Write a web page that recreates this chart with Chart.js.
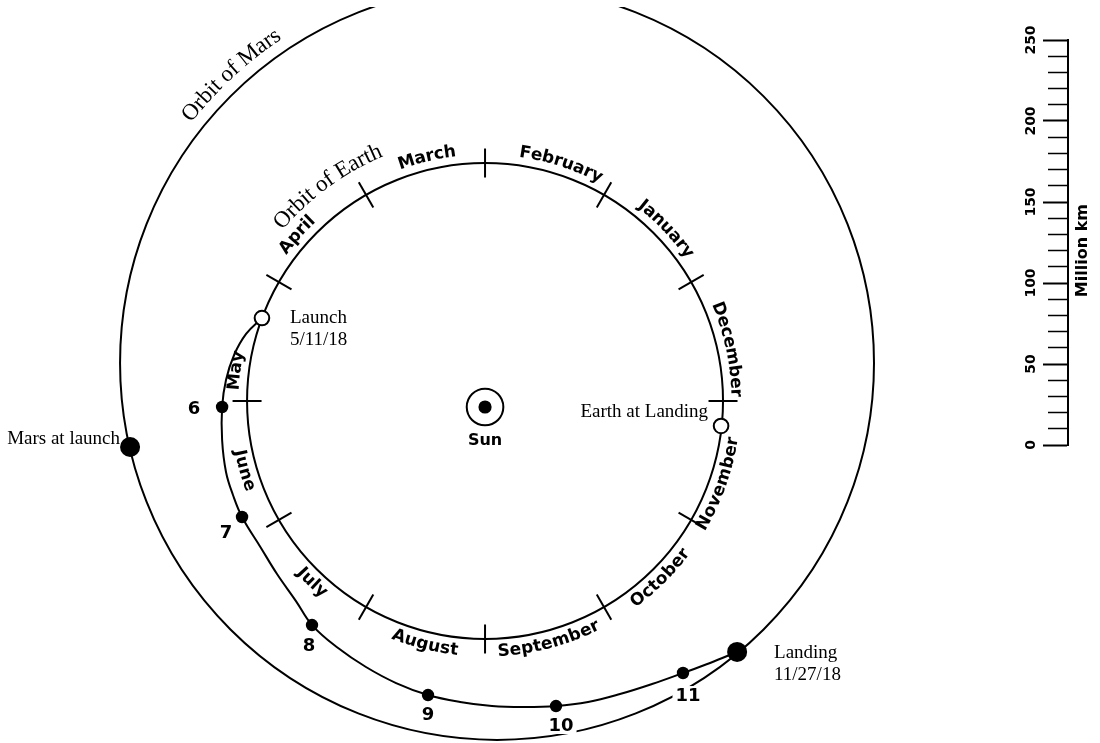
<!DOCTYPE html>
<html>
<head>
<meta charset="utf-8">
<title>Transfer orbit to Mars</title>
<script src="https://cdn.jsdelivr.net/npm/chart.js@4.4.1/dist/chart.umd.min.js"></script>
<style>
  html, body { margin: 0; padding: 0; background: #fff; }
  #wrap { position: relative; width: 1100px; height: 743px; overflow: hidden; }
  #orbit-chart { position: absolute; left: 0; top: 0; }
  #scale-chart { position: absolute; left: 990px; top: 0; }
</style>
</head>
<body>
<div id="wrap">
  <canvas id="orbit-chart" width="1100" height="743"></canvas>
  <canvas id="scale-chart" width="110" height="743"></canvas>
</div>
<script>
'use strict';

// everything in million km, the Sun sits at (0, 0)
const earthOrbitCenter = [0, 3.7];
const earthOrbitRadius = 146.9;
const marsOrbitCenter = [7.4, 27.2];
const marsOrbitRadius = 232.7;

const monthNames = ['January', 'February', 'March', 'April', 'May', 'June',
  'July', 'August', 'September', 'October', 'November', 'December'];
// angle (deg, counter-clockwise) of each month name around Earth's orbit
const monthLabelAngles = [43.5, 72.3, 103.4, 138.5, 173.1, 196.1,
  226.4, 256.1, 284.9, 314.7, 340.5, 12];
const monthTickAngles = [0, 30, 60, 90, 120, 150, 180, 210, 240, 270, 300, 330];

// transfer orbit, launch 5/11/18 -> landing 11/27/18
const transferX = [-137.7, -147.5, -154.9, -159.9, -162.3, -162.3, -159.9, -155.6, -150.0,
  -138.3, -128.4, -116.7, -106.8, -90.7, -73.5, -54.9, -35.2, -15.4, 4.3, 24.1, 43.8,
  63.6, 83.3, 103.1, 122.2, 138.9, 155.6];
const transferY = [54.9, 45.1, 32.1, 16.7, 0, -20.4, -40.1, -54.3, -67.9,
  -87.0, -103.1, -119.8, -134.6, -148.8, -160.5, -170.4, -177.8, -182.1, -184.6, -185.2, -184.6,
  -182.1, -177.2, -171.0, -164.2, -158.0, -151.2];

const markerLabels = ['6', '7', '8', '9', '10', '11'];
const markerX = [-162.3, -150.0, -106.8, -35.2, 43.8, 122.2];
const markerY = [0, -67.9, -134.6, -177.8, -184.6, -164.2];
const markerLabelX = [-179.6, -159.9, -108.6, -35.2, 46.9, 125.3];
const markerLabelY = [-0.6, -77.2, -146.9, -189.5, -196.3, -177.8];

// Earth at launch, Earth at landing
const earthX = [-137.7, 145.7];
const earthY = [54.9, -11.7];
// Mars at launch, Mars at landing
const marsX = [-219.1, 155.6];
const marsY = [-24.7, -151.2];

const noteText = ['Launch', '5/11/18', 'Landing', '11/27/18', 'Mars at launch', 'Earth at Landing'];
const noteX = [-120.4, -120.4, 178.4, 178.4, -225.3, 137.7];
const noteY = [54.9, 41.4, -151.9, -165.4, -19.8, -3.1];
const noteAlign = ['left', 'left', 'left', 'left', 'right', 'right'];

const kmMin = 0;
const kmMax = 250;
const kmStep = 10;
const kmLabelStep = 50;

const SANS = '"DejaVu Sans", sans-serif';
const SERIF = '"Liberation Serif", "Times New Roman", serif';

Chart.defaults.color = '#000';

const points = (xs, ys) => xs.map((x, i) => ({x: x, y: ys[i]}));

const lenPx = (chart, d) => chart.scales.x.getPixelForValue(d) - chart.scales.x.getPixelForValue(0);

const onEarthOrbit = (deg) => ({
  x: earthOrbitCenter[0] + earthOrbitRadius * Math.cos(deg * Math.PI / 180),
  y: earthOrbitCenter[1] + earthOrbitRadius * Math.sin(deg * Math.PI / 180),
});

// text bent along a circle; outward = letter tops away from the centre
function arcText(ctx, text, cx, cy, r, deg, outward) {
  const total = ctx.measureText(text).width;
  const ac = -deg * Math.PI / 180;
  let pos = 0;
  for (const ch of text) {
    const w = ctx.measureText(ch).width;
    const s = (pos + w / 2 - total / 2) / r;
    const a = outward ? ac + s : ac - s;
    ctx.save();
    ctx.translate(cx + r * Math.cos(a), cy + r * Math.sin(a));
    ctx.rotate(outward ? a + Math.PI / 2 : a - Math.PI / 2);
    ctx.fillText(ch, 0, 0);
    ctx.restore();
    pos += w;
  }
}

const labelPlugin = {
  id: 'orbitLabels',
  afterDatasetsDraw(chart) {
    const ctx = chart.ctx;
    const sx = chart.scales.x, sy = chart.scales.y;
    ctx.save();
    ctx.fillStyle = '#000';
    ctx.textAlign = 'center';
    ctx.textBaseline = 'middle';

    // month names around Earth's orbit
    ctx.font = 'bold 17px ' + SANS;
    const ex = sx.getPixelForValue(earthOrbitCenter[0]);
    const ey = sy.getPixelForValue(earthOrbitCenter[1]);
    const er = lenPx(chart, earthOrbitRadius);
    monthNames.forEach((name, i) => {
      const deg = monthLabelAngles[i];
      arcText(ctx, name, ex, ey, er + 13, deg, deg < 180);
    });

    // orbit names
    ctx.font = '23px ' + SERIF;
    arcText(ctx, 'Orbit of Earth', ex, ey, er + 33, 126.2, true);
    const mx = sx.getPixelForValue(marsOrbitCenter[0]);
    const my = sy.getPixelForValue(marsOrbitCenter[1]);
    arcText(ctx, 'Orbit of Mars', mx, my, lenPx(chart, marsOrbitRadius) + 18, 132.7, true);

    // month numbers on the transfer orbit
    ctx.font = 'bold 18px ' + SANS;
    markerLabels.forEach((t, i) => {
      const px = sx.getPixelForValue(markerLabelX[i]);
      const py = sy.getPixelForValue(markerLabelY[i]);
      const w = ctx.measureText(t).width;
      ctx.fillStyle = '#fff';
      ctx.fillRect(px - w / 2 - 3, py - 9, w + 6, 18);
      ctx.fillStyle = '#000';
      ctx.fillText(t, px, py + 1);
    });

    // Sun
    ctx.font = 'bold 16px ' + SANS;
    ctx.fillText('Sun', sx.getPixelForValue(0), sy.getPixelForValue(-21.0));

    // notes
    ctx.font = '19px ' + SERIF;
    noteText.forEach((t, i) => {
      ctx.textAlign = noteAlign[i];
      ctx.fillText(t, sx.getPixelForValue(noteX[i]), sy.getPixelForValue(noteY[i]));
    });
    ctx.restore();
  }
};

new Chart(document.getElementById('orbit-chart'), {
  type: 'scatter',
  data: {
    datasets: [
      { // monthly positions of the spacecraft
        data: points(markerX, markerY),
        pointRadius: 6.2,
        pointBackgroundColor: '#000',
        pointBorderWidth: 0,
      },
      { // Earth at launch / landing
        data: points(earthX, earthY),
        pointRadius: 7.3,
        pointBackgroundColor: '#fff',
        pointBorderColor: '#000',
        pointBorderWidth: 2,
      },
      { // Mars at launch / landing
        data: points(marsX, marsY),
        pointRadius: 10,
        pointBackgroundColor: '#000',
        pointBorderWidth: 0,
      },
      { // transfer orbit
        data: points(transferX, transferY),
        showLine: true,
        tension: 0.4,
        borderColor: '#000',
        borderWidth: 2,
        pointRadius: 0,
      },
      { // month boundaries on Earth's orbit
        data: monthTickAngles.map(onEarthOrbit),
        pointStyle: 'line',
        rotation: (c) => -monthTickAngles[c.dataIndex],
        pointRadius: 14.5,
        pointBorderColor: '#000',
        pointBorderWidth: 2,
      },
      { // Sun dot
        data: [{x: 0, y: 0}],
        pointRadius: 6.6,
        pointBackgroundColor: '#000',
        pointBorderWidth: 0,
      },
      { // Sun ring
        data: [{x: 0, y: 0}],
        pointRadius: 18.3,
        pointBackgroundColor: '#fff',
        pointBorderColor: '#000',
        pointBorderWidth: 2,
      },
      { // Earth's orbit
        data: [{x: earthOrbitCenter[0], y: earthOrbitCenter[1]}],
        pointRadius: (c) => lenPx(c.chart, earthOrbitRadius),
        pointBackgroundColor: 'rgba(0,0,0,0)',
        pointBorderColor: '#000',
        pointBorderWidth: 2,
      },
      { // Mars' orbit, cut off at the top like the original
        data: [{x: marsOrbitCenter[0], y: marsOrbitCenter[1]}],
        clip: 0,
        pointRadius: (c) => lenPx(c.chart, marsOrbitRadius),
        pointBackgroundColor: 'rgba(0,0,0,0)',
        pointBorderColor: '#000',
        pointBorderWidth: 2,
      },
    ],
  },
  options: {
    responsive: false,
    animation: false,
    events: [],
    layout: { padding: { top: 7, left: 0, right: 0, bottom: 0 }, autoPadding: false },
    plugins: {
      legend: { display: false },
      tooltip: { enabled: false },
    },
    scales: {
      // 1.62 px per million km on both axes
      x: { type: 'linear', min: -299.4, max: 379.6, display: false },
      y: { type: 'linear', min: -207.41, max: 246.91, display: false },
    },
  },
  plugins: [labelPlugin],
});

// distance scale bar
const unitPlugin = {
  id: 'unitLabel',
  afterDraw(chart) {
    const ctx = chart.ctx;
    const y = chart.scales.y.getPixelForValue(120);
    ctx.save();
    ctx.translate(chart.chartArea.left + 15, y);
    ctx.rotate(-Math.PI / 2);
    ctx.font = 'bold 16px ' + SANS;
    ctx.fillStyle = '#000';
    ctx.textAlign = 'center';
    ctx.textBaseline = 'middle';
    ctx.fillText('Million km', 0, 0);
    ctx.restore();
  }
};

new Chart(document.getElementById('scale-chart'), {
  type: 'scatter',
  data: { datasets: [{ data: [] }] },
  options: {
    responsive: false,
    animation: false,
    events: [],
    layout: { padding: { top: 40, bottom: 298, left: 0, right: 10 }, autoPadding: false },
    plugins: {
      legend: { display: false },
      tooltip: { enabled: false },
    },
    scales: {
      x: { display: false },
      y: {
        position: 'left',
        min: kmMin,
        max: kmMax,
        afterFit: (scale) => { scale.width = 78; },
        border: { display: true, color: '#000', width: 2 },
        grid: {
          drawOnChartArea: false,
          drawTicks: true,
          tickLength: 25,
          tickColor: '#000',
          tickWidth: (c) => (c.tick && c.tick.value % kmLabelStep === 0 ? 2 : 1.4),
          tickBorderDash: (c) => (c.tick && c.tick.value % kmLabelStep === 0 ? [] : [0, 5, 20, 0]),
        },
        ticks: {
          stepSize: kmStep,
          autoSkip: false,
          minRotation: 90,
          maxRotation: 90,
          crossAlign: 'center',
          padding: -3,
          color: '#000',
          font: { family: SANS, size: 14, weight: 'bold' },
          callback: (v) => (v % kmLabelStep === 0 ? v : ''),
        },
      },
    },
  },
  plugins: [unitPlugin],
});
</script>
</body>
</html>
